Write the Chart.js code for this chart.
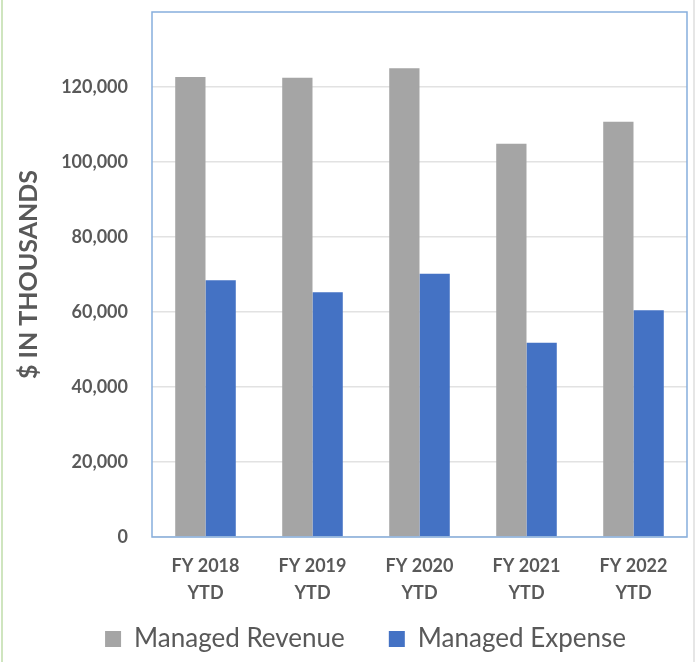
<!DOCTYPE html>
<html>
<head>
<meta charset="utf-8">
<script src="https://cdn.jsdelivr.net/npm/chart.js@4"></script>
<style>
  html, body { margin: 0; padding: 0; background: #fff; }
  #wrap { position: relative; width: 698px; height: 662px; }
  #chart { position: absolute; left: 0; top: 0; }
  .edgeL { position: absolute; left: 1px; top: 0; width: 2px; height: 662px; background: #CFE5BF; }
  .edgeR { position: absolute; left: 693px; top: 0; width: 2px; height: 662px; background: #E6E6E6; }
</style>
</head>
<body>
<div id="wrap">
  <canvas id="chart" width="698" height="662"></canvas>
  <div class="edgeL"></div>
  <div class="edgeR"></div>
</div>
<script>
const categories = [['FY 2018', 'YTD'], ['FY 2019', 'YTD'], ['FY 2020', 'YTD'], ['FY 2021', 'YTD'], ['FY 2022', 'YTD']];
const seriesNames = ['Managed Revenue', 'Managed Expense'];
const managedRevenue = [122700, 122500, 125000, 104900, 110750];
const managedExpense = [68500, 65250, 70200, 51800, 60500];
const yTicks = [0, 20000, 40000, 60000, 80000, 100000, 120000];
const yAxisTitle = '$ IN THOUSANDS';

const textColor = '#595959';

const plotBorder = {
  id: 'plotBorder',
  afterDraw(chart) {
    const {ctx, chartArea: a} = chart;
    ctx.save();
    ctx.strokeStyle = '#86AEDD';
    ctx.lineWidth = 1.5;
    ctx.strokeRect(a.left, a.top, a.right - a.left, a.bottom - a.top);
    ctx.restore();
  }
};

const legendShift = {
  id: 'legendShift',
  afterLayout(chart) {
    const lg = chart.legend;
    if (lg) {
      lg.left += 22; lg.right += 22;
      lg.top -= 23;
    }
  }
};

new Chart(document.getElementById('chart'), {
  type: 'bar',
  data: {
    labels: categories,
    datasets: [
      { label: seriesNames[0], data: managedRevenue, backgroundColor: '#A5A5A5' },
      { label: seriesNames[1], data: managedExpense, backgroundColor: '#4472C4' }
    ]
  },
  options: {
    responsive: false,
    animation: false,
    devicePixelRatio: 1,
    layout: { padding: { top: 12, right: 11, left: 0, bottom: 0 } },
    datasets: { bar: { categoryPercentage: 0.566, barPercentage: 1.0 } },
    plugins: {
      tooltip: { enabled: false },
      legend: {
        position: 'bottom',
        maxHeight: 57,
        labels: {
          boxWidth: 16,
          boxHeight: 16,
          padding: 44,
          color: textColor,
          font: { family: 'Lato', size: 26, weight: 'normal' }
        }
      }
    },
    scales: {
      x: {
        grid: { display: false, drawTicks: false },
        border: { display: false },
        ticks: {
          color: textColor,
          padding: 16,
          font: { family: 'Lato', size: 18, weight: 'bold', lineHeight: 1.5 }
        },
        afterFit(scale) { scale.height = 68; scale.paddingLeft = 0; scale.paddingRight = 0; }
      },
      y: {
        min: 0,
        max: 140000,
        afterBuildTicks(scale) {
          scale.ticks = yTicks.concat([140000]).map(v => ({ value: v }));
        },
        grid: {
          drawTicks: false,
          color: ctx => (ctx.tick && ctx.tick.value === 140000) ? 'rgba(0,0,0,0)' : '#E2E2E2',
          lineWidth: 1.5
        },
        border: { display: false },
        ticks: {
          color: textColor,
          padding: 24,
          font: { family: 'Lato', size: 18, weight: 'bold' },
          callback: v => (v === 140000 ? '' : v.toLocaleString('en-US'))
        },
        title: {
          display: true,
          text: yAxisTitle,
          color: textColor,
          padding: { top: 14, bottom: 0 },
          font: { family: 'Lato', size: 25, weight: 'bold' }
        },
        afterFit(scale) { scale.width = 152; scale.paddingTop = 0; scale.paddingBottom = 0; }
      }
    }
  },
  plugins: [plotBorder, legendShift]
});
</script>
</body>
</html>
